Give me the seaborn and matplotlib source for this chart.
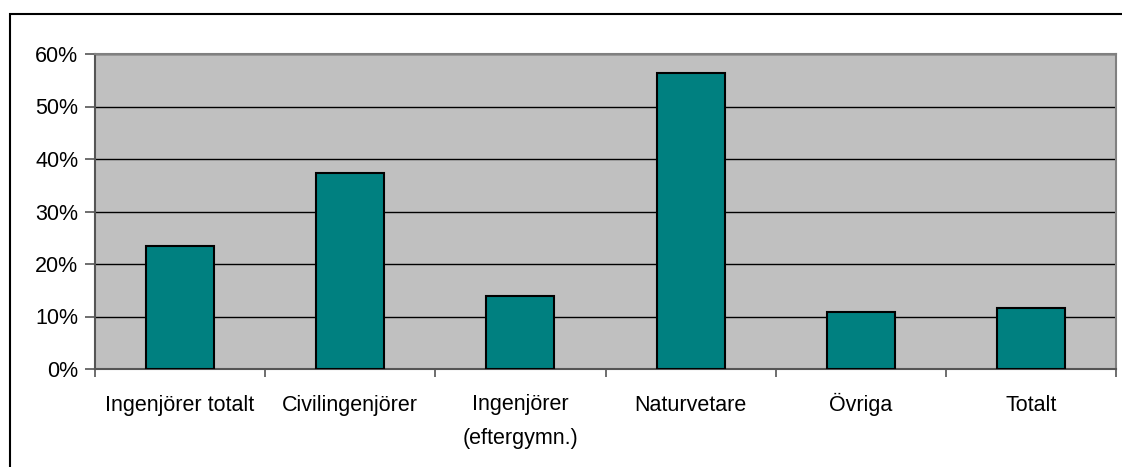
import matplotlib
matplotlib.use("Agg")
import matplotlib.pyplot as plt
import seaborn as sns
import pandas as pd
from matplotlib.patches import Rectangle
from matplotlib.ticker import PercentFormatter, FixedLocator
from matplotlib.transforms import ScaledTranslation

categories = ["Ingenjörer totalt", "Civilingenjörer", "Ingenjörer\n(eftergymn.)",
              "Naturvetare", "Övriga", "Totalt"]
values = [23.4, 37.3, 13.9, 56.4, 10.9, 11.6]
yticks = [0, 10, 20, 30, 40, 50, 60]

df = pd.DataFrame({"cat": categories, "val": values})

sns.set_theme(style="white")
plt.rcParams["font.family"] = ["Liberation Sans", "DejaVu Sans"]
plt.rcParams["text.color"] = "black"
plt.rcParams["xtick.color"] = "black"
plt.rcParams["ytick.color"] = "black"

fig = plt.figure(figsize=(11.22, 4.67), dpi=100)
ax = fig.add_axes([95/1122, (467-369)/467, (1116-95)/1122, (369-54)/467])
ax.set_facecolor("#C0C0C0")

sns.barplot(data=df, x="cat", y="val", color="#008080", width=0.4,
            edgecolor="black", linewidth=1.5, saturation=1, ax=ax, zorder=3)

ax.set_ylim(0, 60)
ax.set_xlim(-0.5, len(categories) - 0.5)
ax.set_yticks(yticks)
ax.yaxis.set_major_formatter(PercentFormatter(decimals=0))
ax.grid(axis="y", color="black", linewidth=1, zorder=1)
ax.set_axisbelow(True)
ax.set_xlabel("")
ax.set_ylabel("")

ax.set_xticks(range(len(categories)))
ax.set_xticklabels(categories, fontsize=15.5, va="baseline", linespacing=1.78)
ax.tick_params(axis="x", length=0, pad=30, labelcolor="black")
ax.xaxis.set_minor_locator(FixedLocator([i - 0.5 for i in range(len(categories) + 1)]))
ax.tick_params(axis="x", which="minor", length=6, color="#555555", width=1.2, direction="out")
ax.tick_params(axis="y", length=7, color="#555555", width=1.2, direction="out",
               labelsize=15.5, pad=5, labelcolor="black")
ax.yaxis.set_tick_params(left=True)
ax.xaxis.set_tick_params(which="minor", bottom=True)

# multi-line label: align first line's baseline with the others
for lab in ax.get_xticklabels():
    n = lab.get_text().count("\n")
    if n:
        lab.set_transform(lab.get_transform() +
                          ScaledTranslation(0, -0.33 * n, fig.dpi_scale_trans))

for side in ["left", "bottom"]:
    ax.spines[side].set_color("#555555")
    ax.spines[side].set_linewidth(1.5)
for side in ["top", "right"]:
    ax.spines[side].set_color("#808080")
    ax.spines[side].set_linewidth(1.5)

fig.patches.append(Rectangle((10/1122, -0.1), 1.2, (467-14)/467 + 0.1,
                             transform=fig.transFigure, fill=False,
                             edgecolor="black", linewidth=1.5))

fig.savefig("out.png", dpi=100)
